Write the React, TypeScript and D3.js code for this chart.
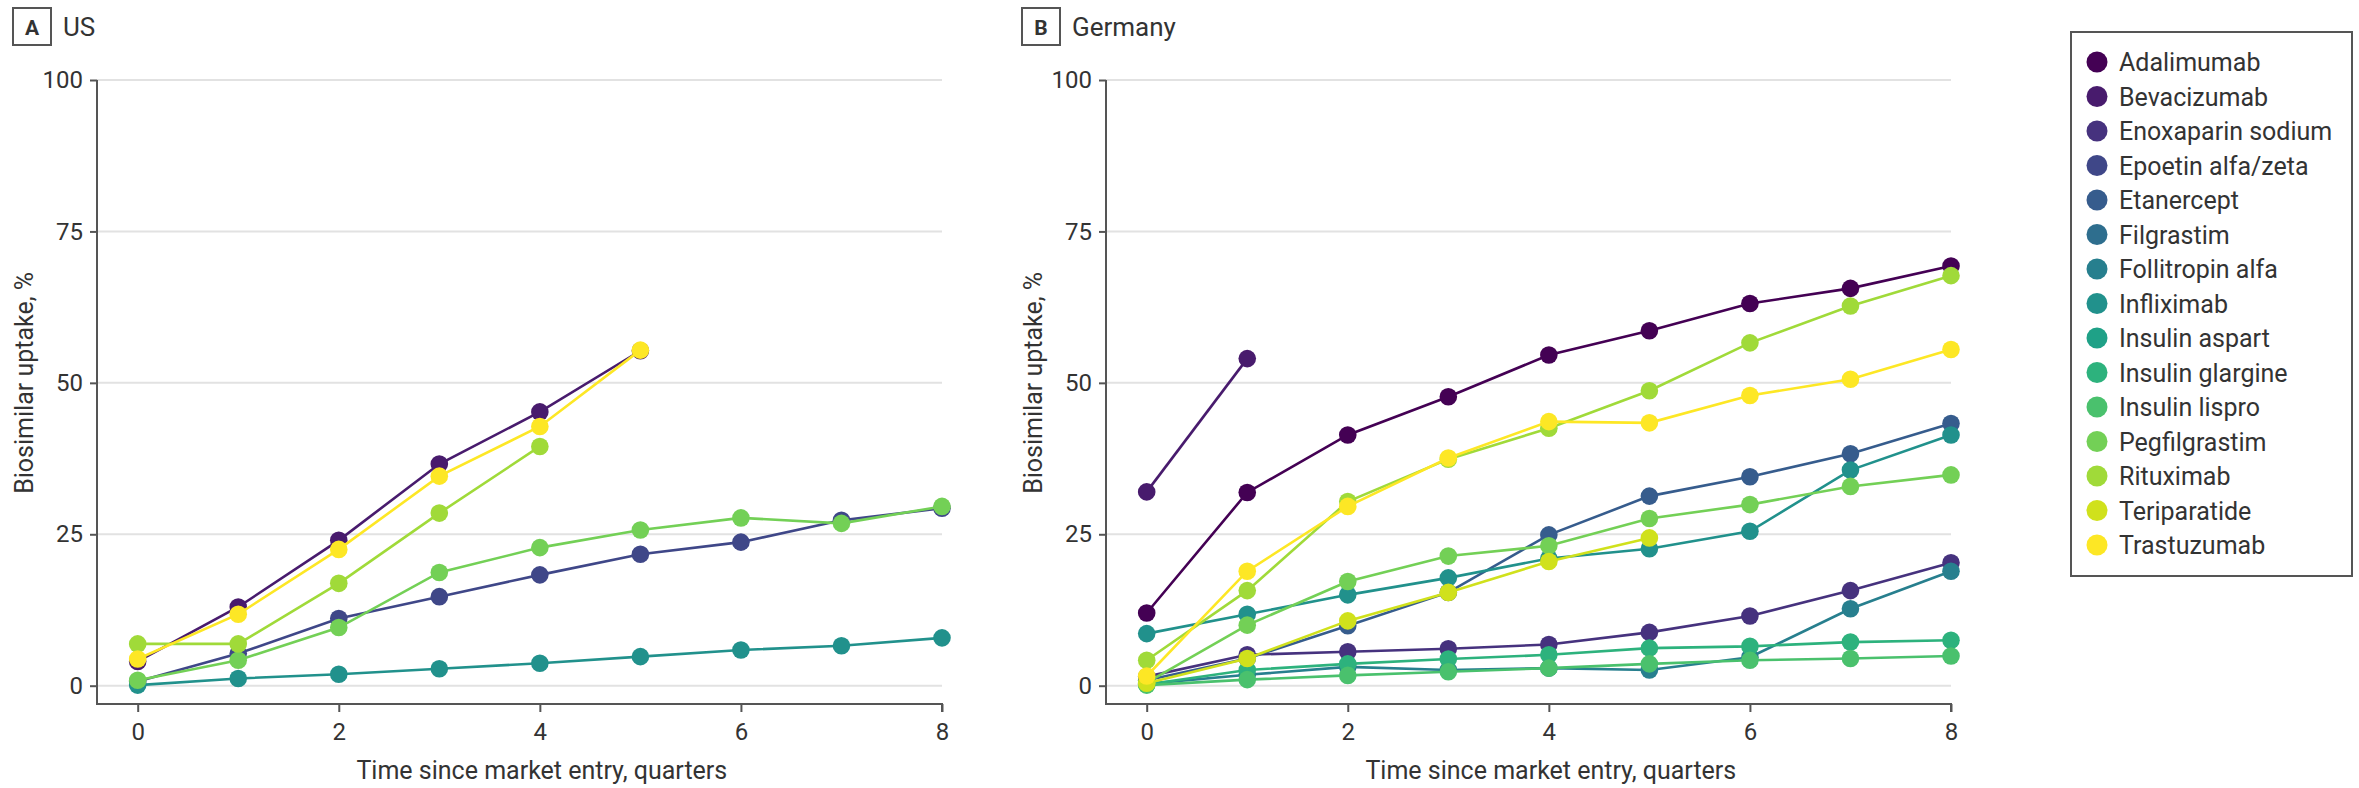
import React, { useEffect, useRef } from 'react';
import * as d3 from 'd3';

// Drugs in legend order (colour = viridis position)
const drugs = [
  'Adalimumab', 'Bevacizumab', 'Enoxaparin sodium', 'Epoetin alfa/zeta', 'Etanercept',
  'Filgrastim', 'Follitropin alfa', 'Infliximab', 'Insulin aspart', 'Insulin glargine',
  'Insulin lispro', 'Pegfilgrastim', 'Rituximab', 'Teriparatide', 'Trastuzumab'
];
const quarters = [0, 1, 2, 3, 4, 5, 6, 7, 8];
const yTicks = [0, 25, 50, 75, 100];
const xTicks = [0, 2, 4, 6, 8];

// US uptake, %
const usBevacizumab = [4.0, 13.0, 24.0, 36.6, 45.2, 55.3];
const usEpoetin = [0.7, 5.3, 11.1, 14.7, 18.3, 21.7, 23.7, 27.3, 29.3];
const usInfliximab = [0.1, 1.2, 1.9, 2.8, 3.7, 4.8, 5.9, 6.6, 7.9];
const usPegfilgrastim = [0.9, 4.2, 9.6, 18.7, 22.8, 25.7, 27.7, 26.8, 29.6];
const usRituximab = [6.9, 6.9, 16.9, 28.5, 39.5];
const usTrastuzumab = [4.4, 11.8, 22.5, 34.6, 42.8, 55.4];

// Germany uptake, %
const deAdalimumab = [12.0, 31.9, 41.4, 47.7, 54.6, 58.6, 63.1, 65.6, 69.3];
const deBevacizumab = [32.0, 54.0];
const deEnoxaparin = [1.5, 5.1, 5.6, 6.1, 6.8, 8.8, 11.5, 15.7, 20.3];
const deEtanercept = [0.9, 4.5, 9.9, 15.4, 24.9, 31.3, 34.5, 38.3, 43.3];
const deFollitropin = [0.3, 1.8, 3.1, 2.6, 2.9, 2.6, 4.7, 12.7, 18.9];
const deInfliximab = [8.6, 11.8, 15.0, 17.8, 21.0, 22.6, 25.5, 35.6, 41.4];
const deInsulinGlargine = [0.2, 2.6, 3.6, 4.4, 5.1, 6.2, 6.5, 7.2, 7.5];
const deInsulinLispro = [0.1, 1.0, 1.7, 2.3, 2.9, 3.6, 4.2, 4.5, 4.9];
const dePegfilgrastim = [0.5, 10.0, 17.2, 21.4, 23.1, 27.6, 29.9, 32.9, 34.8];
const deRituximab = [4.2, 15.7, 30.4, 37.4, 42.5, 48.7, 56.6, 62.7, 67.7];
const deTeriparatide = [0.4, 4.5, 10.7, 15.4, 20.5, 24.4];
const deTrastuzumab = [1.6, 18.9, 29.6, 37.6, 43.6, 43.4, 47.9, 50.6, 55.5];

const usSeries = [
  { drug: 'Bevacizumab', values: usBevacizumab },
  { drug: 'Epoetin alfa/zeta', values: usEpoetin },
  { drug: 'Infliximab', values: usInfliximab },
  { drug: 'Pegfilgrastim', values: usPegfilgrastim },
  { drug: 'Rituximab', values: usRituximab },
  { drug: 'Trastuzumab', values: usTrastuzumab },
];

const deSeries = [
  { drug: 'Adalimumab', values: deAdalimumab },
  { drug: 'Bevacizumab', values: deBevacizumab },
  { drug: 'Enoxaparin sodium', values: deEnoxaparin },
  { drug: 'Etanercept', values: deEtanercept },
  { drug: 'Follitropin alfa', values: deFollitropin },
  { drug: 'Infliximab', values: deInfliximab },
  { drug: 'Insulin glargine', values: deInsulinGlargine },
  { drug: 'Insulin lispro', values: deInsulinLispro },
  { drug: 'Pegfilgrastim', values: dePegfilgrastim },
  { drug: 'Rituximab', values: deRituximab },
  { drug: 'Teriparatide', values: deTeriparatide },
  { drug: 'Trastuzumab', values: deTrastuzumab },
];

const FONT = 'Roboto, "Open Sans", sans-serif';
const TEXT = '#333333';
const AXIS = '#555555';

const color = d3.scaleOrdinal<string, string>()
  .domain(drugs)
  .range(drugs.map((d, i) => d3.interpolateViridis(i / (drugs.length - 1))));

type Series = { drug: string, values: number[] };

function drawPanel(svg: any, dx: number, letter: string, title: string, series: Series[]) {
  const axisLeftX = 97;
  const axisBottomY = 704;
  const x = d3.scaleLinear().domain([0, 8]).range([137.7, 942]);
  const y = d3.scaleLinear().domain([0, 100]).range([685.7, 80]);

  const g = svg.append('g').attr('transform', 'translate(' + dx + ',0)');

  // panel label
  g.append('rect')
    .attr('x', 13).attr('y', 8).attr('width', 38).attr('height', 37)
    .attr('fill', 'none').attr('stroke', '#555').attr('stroke-width', 2);
  g.append('text')
    .attr('x', 32).attr('y', 35)
    .attr('text-anchor', 'middle')
    .style('font', 'bold 21px ' + FONT).style('fill', TEXT)
    .text(letter);
  g.append('text')
    .attr('x', 63).attr('y', 36)
    .style('font', '26px ' + FONT).style('fill', TEXT)
    .text(title);

  // gridlines
  g.append('g').selectAll('line')
    .data(yTicks)
    .enter()
    .append('line')
    .attr('x1', axisLeftX).attr('x2', x(8))
    .attr('y1', (d: number) => y(d)).attr('y2', (d: number) => y(d))
    .style('stroke', '#e2e2e2').style('stroke-width', 2);

  // axes
  const yAxis = d3.axisLeft(y).tickValues(yTicks).tickSize(7).tickPadding(7);
  const yG = g.append('g').attr('transform', 'translate(' + axisLeftX + ',0)');
  yAxis(yG);
  const xAxis = d3.axisBottom(x).tickValues(xTicks).tickSize(8).tickPadding(11);
  const xG = g.append('g').attr('transform', 'translate(0,' + axisBottomY + ')');
  xAxis(xG);
  [yG, xG].forEach((ax) => {
    ax.select('.domain').remove();
    ax.selectAll('line').style('stroke', AXIS).style('stroke-width', 2);
    ax.selectAll('text').style('font', '24px ' + FONT).style('fill', TEXT);
  });
  g.append('path')
    .attr('d', 'M' + axisLeftX + ',' + y(100) + 'V' + axisBottomY + 'H' + x(8) + 'V' + (axisBottomY + 8))
    .attr('fill', 'none').style('stroke', AXIS).style('stroke-width', 2);

  // axis titles
  g.append('text')
    .attr('transform', 'translate(33,' + y(50) + ') rotate(-90)')
    .attr('text-anchor', 'middle')
    .style('font', '25px ' + FONT).style('fill', TEXT)
    .text('Biosimilar uptake, %');
  g.append('text')
    .attr('x', (x(0) + x(8)) / 2 + 2).attr('y', 779)
    .attr('text-anchor', 'middle')
    .style('font', '25px ' + FONT).style('fill', TEXT)
    .text('Time since market entry, quarters');

  // series, in legend order so later ones sit on top
  const line = d3.line<number>()
    .x((d, i) => x(quarters[i]))
    .y((d) => y(d));

  series.forEach((s) => {
    const sg = g.append('g');
    sg.append('path')
      .datum(s.values)
      .attr('d', line)
      .attr('fill', 'none')
      .style('stroke', color(s.drug))
      .style('stroke-width', 2.6);
    sg.selectAll('circle')
      .data(s.values)
      .enter()
      .append('circle')
      .attr('cx', (d: number, i: number) => x(quarters[i]))
      .attr('cy', (d: number) => y(d))
      .attr('r', 8.8)
      .style('fill', color(s.drug));
  });
}

function drawLegend(svg: any) {
  const rowY = d3.scaleLinear().domain([0, drugs.length - 1]).range([62, 545]);
  const g = svg.append('g');
  g.append('rect')
    .attr('x', 2071).attr('y', 32).attr('width', 281).attr('height', 544)
    .attr('fill', 'none').attr('stroke', '#555').attr('stroke-width', 2);
  const rows = g.selectAll('g.row')
    .data(drugs)
    .enter()
    .append('g')
    .attr('class', 'row')
    .attr('transform', (d: string, i: number) => 'translate(0,' + rowY(i) + ')');
  rows.append('circle')
    .attr('cx', 2097).attr('cy', 0).attr('r', 10.5)
    .style('fill', (d: string) => color(d));
  rows.append('text')
    .attr('x', 2119).attr('y', 0).attr('dy', '0.36em')
    .style('font', '25px ' + FONT).style('fill', TEXT)
    .text((d: string) => d);
}

export default function App() {
  const ref = useRef<SVGSVGElement>(null);

  useEffect(() => {
    const svg = d3.select(ref.current);
    svg.selectAll('*').remove();
    drawPanel(svg, 0, 'A', 'US', usSeries);
    drawPanel(svg, 1009, 'B', 'Germany', deSeries);
    drawLegend(svg);
  }, []);

  return (
    <div style={{ position: 'absolute', left: 0, top: 0 }}>
      <svg ref={ref} width={2359} height={788} style={{ display: 'block', background: '#fff' }} />
    </div>
  );
}
